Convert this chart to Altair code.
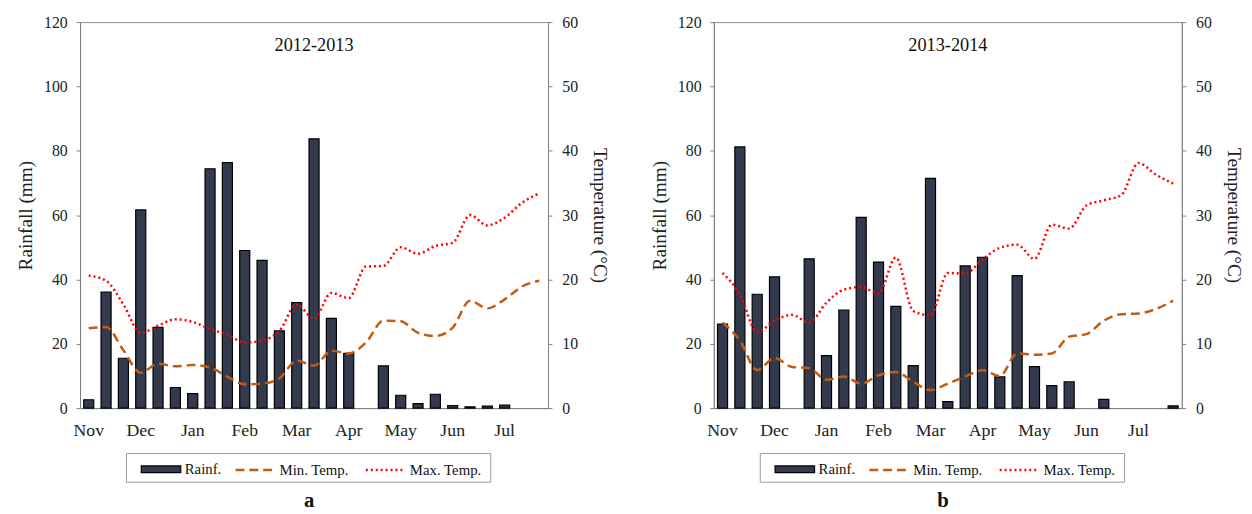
import altair as alt
import pandas as pd

FONT = "Liberation Serif"

months = ["Nov", "Dec", "Jan", "Feb", "Mar", "Apr", "May", "Jun", "Jul"]
periods = [f"{m}-{d}" for m in months for d in (1, 2, 3)]

rain_name = ["Rainf."]
rain_color = ["#333a4e"]
temp_names = ["Min. Temp.", "Max. Temp."]
temp_colors = ["#c55a11", "#ff0000"]
temp_dashes = [[9, 5], [2, 3]]

rain_a = [2.6, 36.1, 15.5, 61.6, 25.1, 6.4, 4.5, 74.4, 76.3, 49.0, 45.9, 24.0, 32.8, 83.7,
          27.9, 17.0, 0, 13.1, 4.0, 1.4, 4.3, 0.8, 0.4, 0.6, 0.9, 0, 0]
tmin_a = [12.4, 12.6, 9.0, 5.5, 6.9, 6.5, 6.7, 6.3, 4.9, 3.7, 3.8, 4.6, 7.4, 6.6,
          8.9, 8.5, 10.2, 13.6, 13.5, 11.7, 11.2, 12.5, 16.7, 15.5, 16.9, 18.9, 19.8]
tmax_a = [20.6, 19.8, 16.1, 11.7, 12.8, 13.8, 13.4, 12.3, 11.4, 10.2, 10.5, 12.0, 16.1, 13.9,
          17.9, 17.1, 22.0, 22.1, 25.0, 24.0, 25.2, 25.7, 30.0, 28.4, 29.6, 31.9, 33.4]

rain_b = [26.1, 81.2, 35.4, 40.8, 0, 46.4, 16.3, 30.5, 59.3, 45.4, 31.6, 13.2, 71.4, 2.0,
          44.2, 46.9, 9.7, 41.2, 12.9, 7.0, 8.2, 0, 2.7, 0, 0, 0, 0.7]
tmin_b = [13.3, 10.5, 5.9, 7.8, 6.4, 6.2, 4.4, 4.9, 3.8, 5.1, 5.6, 4.1, 2.8, 3.8,
          4.9, 5.9, 5.0, 8.5, 8.3, 8.5, 11.1, 11.5, 13.6, 14.6, 14.7, 15.4, 16.7]
tmax_b = [21.0, 17.7, 11.8, 13.6, 14.5, 13.3, 16.4, 18.4, 18.8, 17.8, 23.4, 15.1, 14.4, 21.0,
          20.9, 23.1, 24.9, 25.4, 23.2, 28.5, 27.9, 31.5, 32.3, 33.1, 38.1, 36.3, 34.9]

rain_ticks = [0, 20, 40, 60, 80, 100, 120]
temp_ticks = [0, 10, 20, 30, 40, 50, 60]

W, H = 474, 391
LEG_Y = 432


def leg(x, **kw):
    return alt.Legend(
        orient="none", legendX=x, legendY=LEG_Y, direction="horizontal", title=None,
        padding=0, labelFont=FONT, labelFontSize=15, labelColor="#111", labelOffset=3,
        symbolSize=1600, columnPadding=11, **kw)


def panel(rain, tmin, tmax, season, letter):
    df = pd.DataFrame({"period": periods, "rain": rain, "tmin": tmin, "tmax": tmax})
    base = alt.Chart(df)
    x = alt.X("period:N", sort=periods, scale=alt.Scale(paddingInner=0.42),
              axis=alt.Axis(title=None, ticks=False, labelAngle=0, labelPadding=14,
                            labelFontSize=18, labelOverlap=False,
                            labelExpr="slice(datum.value, -1) == '1' ? slice(datum.value, 0, 3) : ''"))
    y_rain = alt.Y("rain:Q", scale=alt.Scale(domain=[0, 120], nice=False),
                   axis=alt.Axis(title="Rainfall (mm)", values=rain_ticks, orient="left",
                                 tickSize=4, labelPadding=9, labelFontSize=16,
                                 titleFontSize=19.5, titlePadding=8))
    temp_axis = alt.Axis(title="Temperature (°C)", values=temp_ticks, orient="right",
                         tickSize=4, labelPadding=10, labelFontSize=16,
                         titleFontSize=19.5, titlePadding=12)
    temp_scale = alt.Scale(domain=[0, 60], nice=False)

    rain_leg = leg(61, symbolType="M-1,-0.17H1V0.17H-1Z", symbolStrokeColor="black",
                   symbolStrokeWidth=1.2)
    temp_leg = leg(156, symbolType="stroke", symbolStrokeWidth=2.5)

    bars = base.transform_filter("datum.rain > 0").transform_calculate(
        series="'Rainf.'").mark_bar(stroke="black", strokeWidth=1.2).encode(
        x=x, y=y_rain,
        fill=alt.Fill("series:N", scale=alt.Scale(domain=rain_name, range=rain_color),
                      legend=rain_leg))

    temp_df = base.transform_fold(["tmin", "tmax"], as_=["key", "temp"]).transform_calculate(
        series="datum.key == 'tmin' ? 'Min. Temp.' : 'Max. Temp.'")
    lines = temp_df.mark_line(strokeWidth=2.5, interpolate="monotone").encode(
        x=x, y=alt.Y("temp:Q", scale=temp_scale, axis=temp_axis),
        color=alt.Color("series:N", scale=alt.Scale(domain=temp_names, range=temp_colors),
                        legend=temp_leg),
        strokeDash=alt.StrokeDash("series:N",
                                  scale=alt.Scale(domain=temp_names, range=temp_dashes),
                                  legend=temp_leg))

    one = alt.Chart(pd.DataFrame({"t": [season]}))
    box = one.mark_rect(fill="white", stroke="#9a9a9a", strokeWidth=1).encode(
        x=alt.value(47), x2=alt.value(416), y=alt.value(437), y2=alt.value(466))
    label = one.mark_text(
        font=FONT, fontSize=18.5, color="#111", align="center", baseline="middle").encode(
        text="t:N", x=alt.value(237), y=alt.value(23))

    return alt.layer(box, bars, lines, label).resolve_scale(
        y="independent").properties(
        width=W, height=H,
        title=alt.TitleParams(letter, orient="bottom", anchor="middle", font=FONT,
                              fontSize=21, fontWeight="bold", color="#111", offset=8, dx=-5))


pa = panel(rain_a, tmin_a, tmax_a, "2012-2013", "a")
pb = panel(rain_b, tmin_b, tmax_b, "2013-2014", "b")

chart = alt.hconcat(pa, pb, spacing=39).resolve_scale(
    color="independent", fill="independent", strokeDash="independent").resolve_legend(
    color="independent", fill="independent", strokeDash="independent").properties(
    padding={"left": 7, "top": 2, "right": 0, "bottom": 0}, background="white"
).configure_view(stroke="#8c8c8c").configure_axis(
    labelFont=FONT, titleFont=FONT, labelColor="#222", titleColor="#222",
    domainColor="#7f7f7f", tickColor="#7f7f7f", grid=False, titleFontWeight="normal"
)

chart.save("out.html", embed_options={"renderer": "svg", "actions": False})
